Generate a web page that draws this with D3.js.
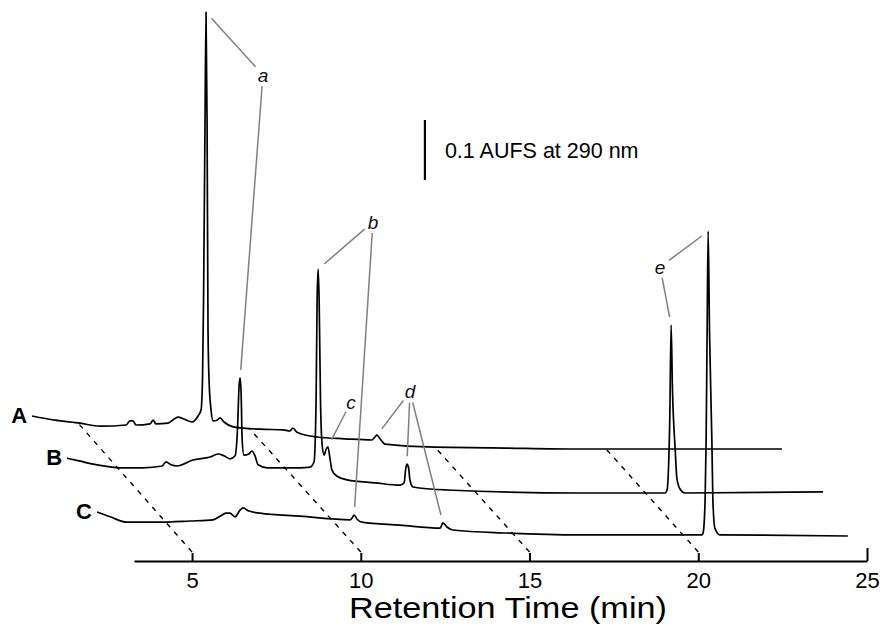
<!DOCTYPE html>
<html>
<head>
<meta charset="utf-8">
<script src="https://cdn.jsdelivr.net/npm/d3@7"></script>
<style>
  body { margin: 0; background: #fff; }
  svg { display: block; font-family: "Liberation Sans", Arial, sans-serif; }
</style>
</head>
<body>
<script>
// retention time (min) and absorbance (AU), one array per trace
const traceA = [
  [3.37, 0.055], [4.05, 0.048], [4.79, 0.043], [5.39, 0.038], [6.16, 0.040], [6.27, 0.047],
  [6.36, 0.047], [6.45, 0.040], [6.87, 0.042], [6.96, 0.048], [7.04, 0.042], [7.40, 0.043],
  [7.58, 0.050], [7.70, 0.053], [7.87, 0.050], [8.11, 0.045], [8.29, 0.055], [8.378, 0.065],
  [8.422, 0.118], [8.452, 0.248], [8.496, 0.548], [8.526, 0.728], [8.556, 0.548], [8.585, 0.198],
  [8.615, 0.115], [8.674, 0.065], [8.733, 0.047], [8.85, 0.048], [8.94, 0.052], [9.06, 0.045],
  [9.33, 0.037], [10.13, 0.033], [10.81, 0.032], [11.01, 0.030], [11.10, 0.035], [11.22, 0.028],
  [11.81, 0.020], [12.64, 0.017], [13.44, 0.015], [13.53, 0.020], [13.59, 0.023], [13.67, 0.018],
  [13.83, 0.008], [15.31, 0.003], [17.0, 0.002], [19.61, 0.0], [25.59, 0.0]
];
const traceB = [
  [3.37, 0.058], [3.76, 0.053], [4.26, 0.047], [4.94, 0.042], [5.62, 0.042], [6.19, 0.045],
  [6.30, 0.052], [6.45, 0.047], [6.63, 0.045], [7.10, 0.055], [7.61, 0.060], [7.84, 0.065],
  [8.02, 0.062], [8.20, 0.057], [8.35, 0.062], [8.42, 0.105], [8.47, 0.180], [8.50, 0.192],
  [8.53, 0.163], [8.56, 0.088], [8.61, 0.063], [8.76, 0.065], [8.85, 0.070], [8.94, 0.062],
  [9.03, 0.047], [9.30, 0.042], [10.27, 0.042], [10.57, 0.043], [10.69, 0.052], [10.75, 0.155],
  [10.78, 0.322], [10.81, 0.373], [10.84, 0.322], [10.88, 0.155], [10.93, 0.080], [10.99, 0.063],
  [11.04, 0.072], [11.10, 0.077], [11.16, 0.058], [11.22, 0.038], [11.37, 0.028], [11.67, 0.022],
  [12.50, 0.017], [13.24, 0.013], [13.36, 0.017], [13.40, 0.038], [13.44, 0.048], [13.49, 0.042],
  [13.53, 0.022], [13.62, 0.010], [14.63, 0.005], [18.57, 0.0], [21.09, 0.0], [21.15, 0.005],
  [21.19, 0.038], [21.23, 0.122], [21.27, 0.280], [21.31, 0.172], [21.39, 0.073], [21.44, 0.025],
  [21.53, 0.007], [21.68, 0.0], [25.77, 0.002]
];
const traceC = [
  [3.22, 0.040], [3.61, 0.032], [4.11, 0.023], [5.00, 0.023], [5.98, 0.025], [6.66, 0.027],
  [6.87, 0.033], [7.04, 0.038], [7.16, 0.038], [7.31, 0.032], [7.46, 0.043], [7.55, 0.047],
  [7.70, 0.042], [8.05, 0.038], [9.24, 0.033], [10.72, 0.027], [10.78, 0.030], [10.84, 0.035],
  [10.93, 0.028], [11.07, 0.023], [12.20, 0.018], [13.39, 0.013], [13.47, 0.022], [13.59, 0.015],
  [13.77, 0.010], [15.37, 0.005], [17.53, 0.002], [21.15, 0.002], [21.18, 0.005], [21.24, 0.060],
  [21.27, 0.160], [21.30, 0.343], [21.33, 0.508], [21.37, 0.343], [21.44, 0.160], [21.47, 0.060],
  [21.53, 0.013], [21.68, 0.002], [25.47, 0.0]
];

const traceNames = ["A", "B", "C"];
const tickValues = [5, 10, 15, 20, 25];
// guide lines: axis tick -> matching time on trace A
const guideTicks = [5, 10, 15, 20];
const guideTopTimes = [4.73, 9.80, 15.31, 20.38];

// peak labels: letter, label position (axis frame: time, AU), peaks pointed at
const peakLetters = ["a", "b", "c", "d", "e"];
const peakLabelAt = [[7.10, 0.81], [10.36, 0.565], [9.71, 0.265], [11.46, 0.282], [18.87, 0.49]];
const peakTargets = [
  [["A", 8.53], ["B", 8.50]],
  [["B", 10.81], ["C", 10.84]],
  [["B", 11.10]],
  [["A", 13.59], ["B", 13.44], ["C", 13.47]],
  [["B", 21.27], ["C", 21.33]]
];

const scaleBarAU = 0.1;
const scaleBarLabel = "0.1 AUFS at 290 nm";
const xTitle = "Retention Time (min)";

const W = 880, H = 630;
const svg = d3.select("body").append("svg").attr("width", W).attr("height", H);

const x = d3.scaleLinear().domain([3.28, 25]).range([134, 867]);
const h = d3.scaleLinear().domain([0, 0.1]).range([0, 60]);

const axisY = 561;
// each trace is shifted left and up (stacked view)
const frames = {
  axis: { dx: 0, base: axisY },
  A: { dx: -105, base: 449 },
  B: { dx: -70, base: 493 },
  C: { dx: -35, base: 536 }
};
const data = { A: traceA, B: traceB, C: traceC };

const px = (f, t) => x(t) + frames[f].dx;
const py = (f, v) => frames[f].base - h(v);

function valueAt(name, t) {
  const arr = data[name];
  const i = d3.bisector(d => d[0]).left(arr, t);
  if (i <= 0) return arr[0][1];
  if (i >= arr.length) return arr[arr.length - 1][1];
  const a = arr[i - 1], b = arr[i];
  return a[1] + (b[1] - a[1]) * (t - a[0]) / (b[0] - a[0]);
}

// dashed guides
svg.append("g")
  .selectAll("line")
  .data(guideTicks)
  .join("line")
  .attr("x1", t => x(t))
  .attr("y1", axisY - 9)
  .attr("x2", (t, i) => px("A", guideTopTimes[i]))
  .attr("y2", (t, i) => py("A", valueAt("A", guideTopTimes[i])))
  .attr("stroke", "#000")
  .attr("stroke-width", 1.4)
  .attr("stroke-dasharray", "5,6");

// traces
const line = name => d3.line()
  .x(d => px(name, d[0]))
  .y(d => py(name, d[1]))
  .curve(d3.curveMonotoneX);

svg.append("g")
  .selectAll("path")
  .data(traceNames)
  .join("path")
  .attr("d", n => line(n)(data[n]))
  .attr("fill", "none")
  .attr("stroke", "#000")
  .attr("stroke-width", 1.7)
  .attr("stroke-linejoin", "round");

// trace labels
svg.append("g")
  .selectAll("text")
  .data(traceNames)
  .join("text")
  .attr("x", n => px(n, data[n][0][0]) - 5)
  .attr("y", n => py(n, data[n][0][1]) + 7)
  .attr("text-anchor", "end")
  .attr("font-weight", "bold")
  .attr("font-size", 22)
  .text(n => n);

// peak annotations
function apex(name, t) {
  const near = data[name].filter(d => Math.abs(d[0] - t) < 0.08);
  const top = d3.greatest(near, d => d[1]);
  return [px(name, top[0]), py(name, top[1])];
}

const ann = svg.append("g");
peakLetters.forEach((letter, i) => {
  const lx = px("axis", peakLabelAt[i][0]);
  const ly = py("axis", peakLabelAt[i][1]);
  peakTargets[i].forEach(([name, t]) => {
    const [ax, ay] = apex(name, t);
    const dx = ax - lx, dy = ay - ly;
    const len = Math.hypot(dx, dy);
    const g0 = 11, g1 = 8;
    ann.append("line")
      .attr("x1", lx + dx * g0 / len)
      .attr("y1", ly + dy * g0 / len)
      .attr("x2", ax - dx * g1 / len)
      .attr("y2", ay - dy * g1 / len)
      .attr("stroke", "#808080")
      .attr("stroke-width", 1.5);
  });
  ann.append("text")
    .attr("x", lx)
    .attr("y", ly)
    .attr("dy", "0.35em")
    .attr("text-anchor", "middle")
    .attr("font-style", "italic")
    .attr("font-size", 19)
    .attr("fill", "#111")
    .text(letter);
});

// scale bar
const barT = 11.9, barTop = 0.735;
svg.append("line")
  .attr("x1", x(barT)).attr("x2", x(barT))
  .attr("y1", py("axis", barTop))
  .attr("y2", py("axis", barTop) + h(scaleBarAU))
  .attr("stroke", "#000")
  .attr("stroke-width", 2.2);
svg.append("text")
  .attr("x", x(barT) + 20)
  .attr("y", py("axis", barTop) + h(scaleBarAU) / 2)
  .attr("dy", "0.35em")
  .attr("font-size", 21.5)
  .text(scaleBarLabel);

// x axis
const xAxis = d3.axisBottom(x)
  .tickValues(tickValues)
  .tickSizeInner(-8)
  .tickSizeOuter(0)
  .tickPadding(11);

const gx = svg.append("g")
  .attr("transform", `translate(0,${axisY})`)
  .call(xAxis);
gx.select(".domain").attr("stroke-width", 2.2);
gx.selectAll(".tick line").attr("stroke-width", 2);
gx.selectAll(".tick text")
  .attr("font-size", 22)
  .attr("font-family", "Liberation Sans, Arial, sans-serif");
gx.selectAll(".tick").filter(d => d === 25).select("line").attr("y2", -13);

svg.append("text")
  .attr("x", 508)
  .attr("y", 618)
  .attr("text-anchor", "middle")
  .attr("font-size", 30)
  .attr("textLength", 318)
  .attr("lengthAdjust", "spacingAndGlyphs")
  .text(xTitle);
</script>
</body>
</html>
